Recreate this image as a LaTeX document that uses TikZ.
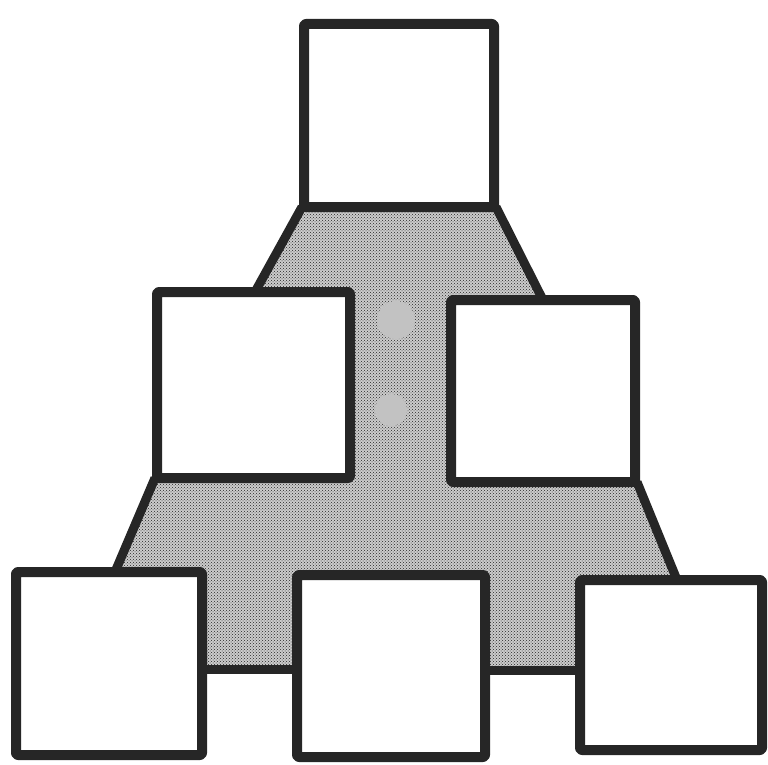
\documentclass[tikz,border=0pt]{standalone}
\usetikzlibrary{patterns}
\begin{document}
\begin{tikzpicture}[x=1pt,y=-1pt,
  box/.style={draw=black!85,line width=10pt,fill=white,rectangle,inner sep=0pt,outer sep=0pt,line join=round,rounded corners=2pt},
  webfill/.style={fill=black!20},
  webdots/.style={pattern=crosshatch dots,pattern color=black!85},
  webline/.style={draw=black!85,line width=9pt,line join=round},
  spot/.style={fill=black!24,draw=none}]
\useasboundingbox (0,0) rectangle (768,765);
% named corner points of the web
\coordinate (t1) at (302,207);
\coordinate (t2) at (255,292);
\coordinate (t3) at (543,300);
\coordinate (t4) at (496,207);
\coordinate (b1) at (155,478);
\coordinate (b2) at (115,572);
\coordinate (b3) at (677,580);
\coordinate (b4) at (637,482);
\coordinate (l1) at (202,669);
\coordinate (l2) at (297,669);
\coordinate (l3) at (485,670);
\coordinate (l4) at (580,670);
% web region
\path[webfill] (t1) -- (t2) -- (350,292) -- (350,478) -- (b1) -- (b2) -- (202,572) -- (l1) -- (l2) -- (297,575) -- (485,575) -- (l3) -- (l4) -- (580,580) -- (b3) -- (b4) -- (451,482) -- (451,300) -- (t3) -- (t4) -- cycle;
\path[webdots] (t1) -- (t2) -- (350,292) -- (350,478) -- (b1) -- (b2) -- (202,572) -- (l1) -- (l2) -- (297,575) -- (485,575) -- (l3) -- (l4) -- (580,580) -- (b3) -- (b4) -- (451,482) -- (451,300) -- (t3) -- (t4) -- cycle;
\fill[spot] (396,320) circle (19);
\fill[spot] (391,410) circle (16);
% outline lines of the web
\draw[webline] (t1) -- (t2);
\draw[webline] (t4) -- (t3);
\draw[webline] (b1) -- (b2);
\draw[webline] (b4) -- (b3);
\draw[webline] (l1) -- (l2);
\draw[webline] (l3) -- (l4);
% squares
\node[box,minimum width=190pt,minimum height=183pt] (T) at (399,115.5) {};
\node[box,minimum width=193pt,minimum height=186pt] (ML) at (253.5,385) {};
\node[box,minimum width=184pt,minimum height=182pt] (MR) at (543,391) {};
\node[box,minimum width=186pt,minimum height=183pt] (BL) at (109,663.5) {};
\node[box,minimum width=188pt,minimum height=182pt] (BM) at (391,666) {};
\node[box,minimum width=182pt,minimum height=170pt] (BR) at (671,665) {};
\end{tikzpicture}
\end{document}
